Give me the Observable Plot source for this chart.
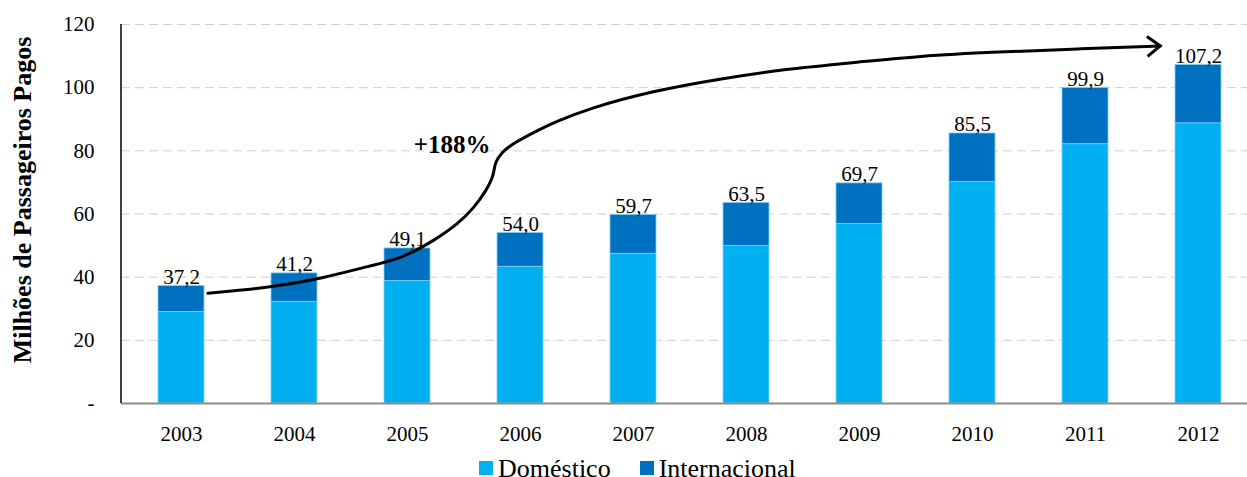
<!DOCTYPE html>
<html>
<head>
<meta charset="utf-8">
<script src="https://cdn.jsdelivr.net/npm/d3@7"></script>
<script src="https://cdn.jsdelivr.net/npm/@observablehq/plot@0.6"></script>
<style>
  html, body { margin: 0; padding: 0; background: #fff; }
  #wrap { position: relative; width: 1247px; height: 477px; overflow: hidden; font-family: "Liberation Serif", "Times New Roman", serif; }
  #legend { position: absolute; top: 454px; left: 479px; font-size: 26px; line-height: 30px; white-space: nowrap; color: #000; }
  #legend .sw { display: inline-block; width: 14px; height: 14px; vertical-align: 2px; }
  #legend .item { display: inline-block; }
</style>
</head>
<body>
<div id="wrap">
  <div id="chart"></div>
  <div id="legend"></div>
</div>
<script>
// ---- Data ----
const years = [2003, 2004, 2005, 2006, 2007, 2008, 2009, 2010, 2011, 2012];
const totals = [37.2, 41.2, 49.1, 54.0, 59.7, 63.5, 69.7, 85.5, 99.9, 107.2];
const domestico = [29.0, 32.2, 38.8, 43.3, 47.4, 49.9, 56.8, 70.1, 82.1, 88.7];
const internacional = [8.2, 9.0, 10.3, 10.7, 12.3, 13.6, 12.9, 15.4, 17.8, 18.5];
const seriesNames = ["Doméstico", "Internacional"];
const seriesColors = ["#00B0F0", "#0070C0"];
const yTicks = [0, 20, 40, 60, 80, 100, 120];
const yLabel = "Milhões de Passageiros Pagos";
const growthText = "+188%";
const growthPos = {year: 2005.40, value: 81.8};
// annotation arrow path in data space (year position, value)
const arrowYears = [2003.238, 2003.809, 2004.249, 2004.689, 2004.953, 2005.243, 2005.455, 2005.595, 2005.701, 2005.754, 2005.771, 2005.780, 2005.833, 2005.947, 2006.185, 2006.299, 2006.598, 2007.179, 2007.768, 2008.358, 2008.938, 2009.528, 2010.232, 2010.936, 2011.666];
const arrowValues = [34.74, 36.63, 39.47, 43.58, 45.79, 51.47, 56.84, 61.89, 67.26, 71.05, 73.58, 76.11, 79.26, 82.42, 86.84, 88.74, 93.16, 98.84, 102.63, 105.79, 107.68, 109.89, 111.16, 112.11, 113.05];

// ---- Tables ----
const rows = [];
years.forEach((y, i) => rows.push({year: y, type: seriesNames[0], value: domestico[i]}));
years.forEach((y, i) => rows.push({year: y, type: seriesNames[1], value: internacional[i]}));
const totalRows = years.map((y, i) => ({year: y, total: totals[i]}));
const fmt = d3.format(".1f");

function annotation(index, scales, values, dims) {
  const x = scales.x, y = scales.y;
  const bw = x.bandwidth ? x.bandwidth() : 0;
  const step = x(years[1]) - x(years[0]);
  const px = t => x(years[0]) + bw / 2 + (t - years[0]) * step;
  const g = d3.create("svg:g");
  // left axis line
  g.append("line")
    .attr("x1", dims.marginLeft).attr("x2", dims.marginLeft)
    .attr("y1", dims.marginTop).attr("y2", dims.height - dims.marginBottom)
    .attr("stroke", "#000").attr("stroke-width", 1.5);
  const pts = arrowYears.map((t, i) => [px(t), y(arrowValues[i])]);
  const line = d3.line().curve(d3.curveBasis);
  g.append("path").attr("d", line(pts))
    .attr("fill", "none").attr("stroke", "#000").attr("stroke-width", 3).attr("stroke-linecap", "round");
  const [tx, ty] = pts[pts.length - 1];
  const [sx, sy] = pts[pts.length - 3];
  const ang = Math.atan2(ty - sy, tx - sx);
  const L = 13, W = 10;
  const ax = tx - L * Math.cos(ang), ay = ty - L * Math.sin(ang);
  const s = Math.sin(ang), c = Math.cos(ang);
  g.append("path")
    .attr("d", `M${ax + W * s},${ay - W * c}L${tx},${ty}L${ax - W * s},${ay + W * c}`)
    .attr("fill", "none").attr("stroke", "#000").attr("stroke-width", 3).attr("stroke-linejoin", "miter");
  g.append("text")
    .attr("x", px(growthPos.year)).attr("y", y(growthPos.value))
    .attr("dy", "0.32em")
    .attr("text-anchor", "middle")
    .attr("font-weight", "bold").attr("font-size", 25)
    .text(growthText);
  return g.node();
}

const chart = Plot.plot({
  width: 1247,
  height: 450,
  marginLeft: 121,
  marginRight: 0,
  marginTop: 24,
  marginBottom: 47,
  style: {fontFamily: "'Liberation Serif', 'Times New Roman', serif", fontSize: "21px", color: "#000", background: "#fff"},
  x: {domain: years, range: [121, 1258], paddingInner: 0.595, paddingOuter: 0.3, label: null},
  y: {domain: [0, 120], label: null},
  color: {domain: seriesNames, range: seriesColors},
  marks: [
    Plot.gridY(yTicks.filter(d => d > 0), {stroke: "#cfcfcf", strokeOpacity: 1, strokeDasharray: "9,5", strokeWidth: 1}),
    Plot.barY(rows, {x: "year", y: "value", fill: "type", order: seriesNames, stroke: "#7fd0f2", strokeWidth: 0.8}),
    Plot.ruleY([0], {stroke: "#8c8c8c", strokeWidth: 2}),
    Plot.axisY({ticks: yTicks, tickSize: 0, tickPadding: 27, tickFormat: d => d === 0 ? "-" : String(d), fontSize: 21, label: null}),
    Plot.axisX({tickSize: 0, tickPadding: 23, tickFormat: d => String(d), fontSize: 21, label: null}),
    Plot.text(totalRows, {x: "year", y: "total", text: d => fmt(d.total).replace(".", ","), lineAnchor: "bottom", dy: -2, fontSize: 21, fill: "#000"}),
    Plot.text([yLabel], {frameAnchor: "left", textAnchor: "middle", text: d => d, rotate: -90, dx: -99, dy: -14, fontSize: 26, fontWeight: "bold", fill: "#000"}),
    annotation
  ]
});
document.getElementById("chart").appendChild(chart);

const legend = document.getElementById("legend");
legend.innerHTML = seriesNames.map((n, i) =>
  `<span class="item" style="margin-right:${i === 0 ? 29 : 0}px"><span class="sw" style="background:${seriesColors[i]}"></span><span style="margin-left:5px">${n}</span></span>`
).join("");
</script>
</body>
</html>
